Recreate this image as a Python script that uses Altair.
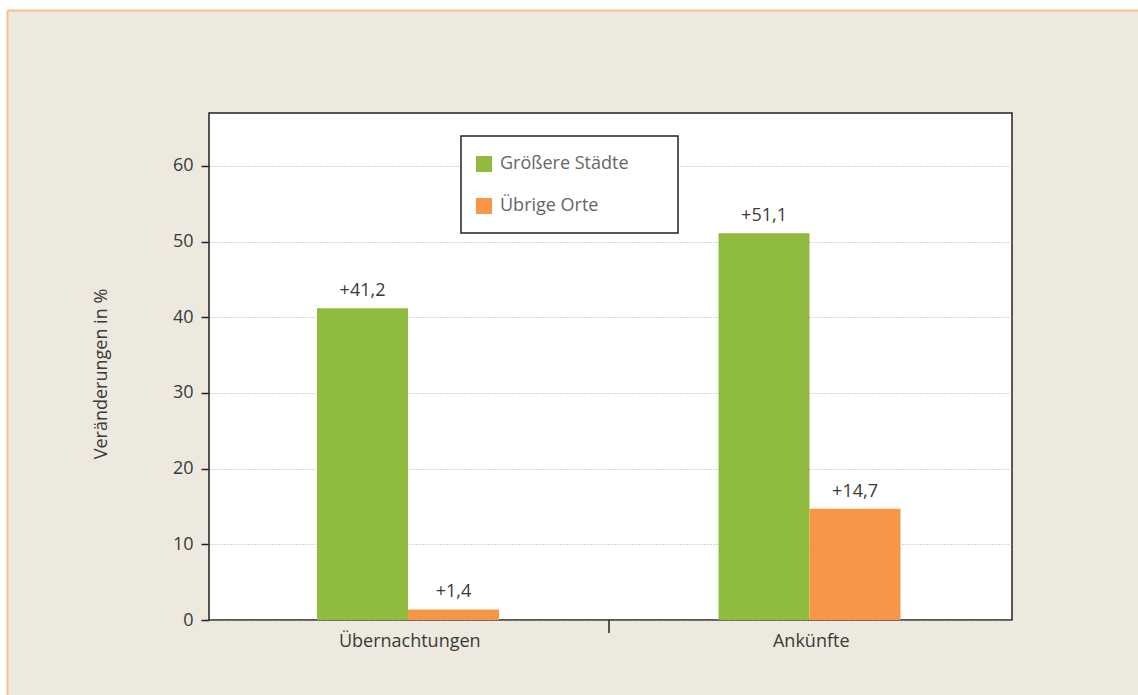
import altair as alt
import pandas as pd

categories = ["Übernachtungen", "Ankünfte"]
series = ["Größere Städte", "Übrige Orte"]
values_staedte = [41.2, 51.1]
values_orte = [1.4, 14.7]
y_ticks = [0, 10, 20, 30, 40, 50, 60]

rows = []
for i, c in enumerate(categories):
    for s, vals in zip(series, [values_staedte, values_orte]):
        v = vals[i]
        rows.append({"Kategorie": c, "Serie": s, "Wert": v,
                     "Label": "+" + f"{v:.1f}".replace(".", ",")})
df = pd.DataFrame(rows)

W, H = 803, 507
FONT = "Open Sans"
FS = 18
TXT = "#3a3a3a"
green, orange = "#8fbc3f", "#f79646"
beige, border = "#ede9df", "#f6bf90"

x_enc = alt.X("Kategorie:N", sort=categories, title=None,
              scale=alt.Scale(paddingInner=0, paddingOuter=0),
              axis=alt.Axis(ticks=False, domain=False, labelPadding=12,
                            labelFontSize=FS, labelColor=TXT, labelFont=FONT,
                            labelAngle=0))
xo_enc = alt.XOffset("Serie:N", sort=series,
                     scale=alt.Scale(paddingInner=0, paddingOuter=0, range=[108, 290]))
y_enc = alt.Y("Wert:Q", title="Veränderungen in %",
              scale=alt.Scale(domain=[0, 67], nice=False),
              axis=alt.Axis(values=y_ticks, grid=True, gridDash=[1, 2],
                            gridColor="#aaaaaa", gridWidth=1, domain=False,
                            tickSize=8, tickColor="#222", tickWidth=1.5,
                            labelPadding=8, labelFontSize=FS, labelColor=TXT,
                            labelFont=FONT, titleFont=FONT, titleFontSize=FS,
                            titleFontWeight="normal", titleColor=TXT,
                            titleAngle=-90, titleX=-108, titleY=H / 2 + 7,
                            titleAlign="center", titleBaseline="middle"))

bars = alt.Chart(df).mark_bar().encode(
    x=x_enc, xOffset=xo_enc, y=y_enc,
    color=alt.Color("Serie:N", sort=series,
                    scale=alt.Scale(domain=series, range=[green, orange]),
                    legend=alt.Legend(title=None, orient="none", legendX=266,
                                      legendY=42, symbolType="square",
                                      symbolSize=256, symbolStrokeWidth=0,
                                      symbolOpacity=1,
                                      labelFont=FONT, labelFontSize=FS,
                                      labelColor="#666", labelOffset=7,
                                      rowPadding=24, padding=0,
                                      labelLimit=300)),
)

labels = alt.Chart(df).mark_text(baseline="bottom", dy=-8, fontSize=FS,
                                 font=FONT, color=TXT).encode(
    x=alt.X("Kategorie:N", sort=categories), xOffset=alt.XOffset("Serie:N", sort=series),
    y="Wert:Q", text="Label:N")

one = pd.DataFrame({"d": [0]})
legend_box = alt.Chart(one).mark_rect(fill="white", stroke="#222", strokeWidth=1.5).encode(
    x=alt.value(252), x2=alt.value(469), y=alt.value(23), y2=alt.value(120))

left_strip = alt.Chart(one).mark_rect(fill="white").encode(
    x=alt.value(-209), x2=alt.value(-201.5), y=alt.value(-113), y2=alt.value(582))
top_strip = alt.Chart(one).mark_rect(fill="white").encode(
    x=alt.value(-209), x2=alt.value(929), y=alt.value(-113), y2=alt.value(-102.5))
left_line = alt.Chart(one).mark_rule(color=border, strokeWidth=2).encode(
    x=alt.value(-201.5), y=alt.value(-102.5), y2=alt.value(582))
top_line = alt.Chart(one).mark_rule(color=border, strokeWidth=2).encode(
    x=alt.value(-201.5), x2=alt.value(929), y=alt.value(-102.5))
mid_tick = alt.Chart(one).mark_rule(color="#222", strokeWidth=1.5).encode(
    x=alt.value(400), y=alt.value(H), y2=alt.value(H + 13))

chart = alt.layer(bars, labels, legend_box, left_strip, top_strip, left_line,
                  top_line, mid_tick).properties(
    width=W, height=H,
    autosize=alt.AutoSizeParams(type="none"),
    padding={"left": 209, "top": 113, "right": 126, "bottom": 75},
    background=beige,
).configure_view(fill="white", stroke="#222", strokeWidth=1.5)

chart.save("out.html", embed_options={"renderer": "svg", "actions": False})
